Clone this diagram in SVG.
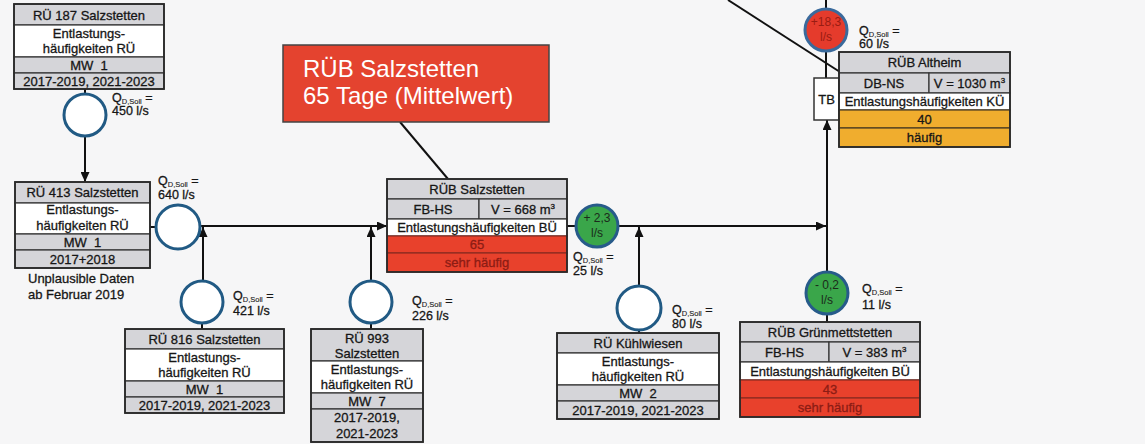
<svg xmlns="http://www.w3.org/2000/svg" width="1145" height="444" viewBox="0 0 1145 444">
<style>
.bg{fill:#f6f6f7}
.g{fill:#d5d5d9;stroke:#333;stroke-width:1.2}
.w{fill:#ffffff;stroke:#333;stroke-width:1.2}
.r{fill:#e8412c;stroke:#8a2a20;stroke-width:1.2}
.o{fill:#f0ad2e;stroke:#4a3a20;stroke-width:1.2}
.frame{fill:none;stroke:#2a2a2a;stroke-width:1.8}
.t{font-family:"Liberation Sans",Arial,sans-serif;font-size:13px;fill:#161616;stroke:#161616;stroke-width:0.3;text-anchor:middle}
.tr{fill:#8c1c14;stroke:#8c1c14}
.l{text-anchor:start}
.q{font-family:"Liberation Sans",Arial,sans-serif;font-size:12.5px;fill:#161616;stroke:#161616;stroke-width:0.3}
.sub{font-size:7.5px;stroke-width:0.1}
.ring{fill:#ffffff;stroke:#215a84;stroke-width:3}
.gc{fill:#3aa64a;stroke:#275b8a;stroke-width:3}
.rc{fill:#e53b2c;stroke:#3a6a9c;stroke-width:3}
.ct{font-family:"Liberation Sans",Arial,sans-serif;font-size:12px;text-anchor:middle;fill:#1b2a1b}
.ctr{fill:#9a1c12}
.ln{stroke:#111;stroke-width:2;fill:none}
.arr{stroke:#111;stroke-width:2;fill:none;marker-end:url(#ah)}
.call{fill:#e4432f;stroke:#444;stroke-width:1.5}
.callt{font-family:"Liberation Sans",Arial,sans-serif;font-size:24px;fill:#ffffff}
</style>
<defs>
<marker id="ah" markerUnits="userSpaceOnUse" markerWidth="10" markerHeight="9" refX="10" refY="4.5" orient="auto">
<path d="M0,0 L10,4.5 L0,9 z" fill="#111"/>
</marker>
</defs>
<rect class="bg" x="0" y="0" width="1145" height="444"/>

<g id="connectors">
<line class="ln" x1="85" y1="89" x2="85" y2="94"/>
<line class="arr" x1="85" y1="136" x2="85" y2="182"/>
<line class="ln" x1="150" y1="227" x2="156" y2="227"/>
<line class="arr" x1="200" y1="226" x2="387" y2="226"/>
<line class="arr" x1="203" y1="281" x2="203" y2="227"/>
<line class="ln" x1="202" y1="323" x2="202" y2="329"/>
<line class="arr" x1="371" y1="281" x2="371" y2="227"/>
<line class="ln" x1="371" y1="323" x2="371" y2="329"/>
<line class="ln" x1="567" y1="226" x2="576" y2="226"/>
<line class="arr" x1="618" y1="226" x2="826" y2="226"/>
<line class="arr" x1="639" y1="286" x2="639" y2="227"/>
<line class="ln" x1="639" y1="330" x2="639" y2="333"/>
<line class="arr" x1="827" y1="272" x2="827" y2="120"/>
<line class="ln" x1="827" y1="314" x2="827" y2="322"/>
<line class="ln" x1="826" y1="0" x2="826" y2="9"/>
<line class="ln" x1="826" y1="51" x2="826" y2="78"/>
<line class="ln" x1="728" y1="0" x2="840" y2="72"/>
<line class="ln" x1="400" y1="122" x2="448" y2="179"/>
</g>

<g id="ru187">
<rect class="g" x="14" y="4" width="150" height="21"/>
<rect class="w" x="14" y="25" width="150" height="32"/>
<rect class="g" x="14" y="57" width="150" height="16"/>
<rect class="g" x="14" y="73" width="150" height="16"/>
<rect class="frame" x="14" y="4" width="150" height="85"/>
<text class="t" x="89" y="19.5">RÜ 187 Salzstetten</text>
<text class="t" x="89" y="37.5">Entlastungs-</text>
<text class="t" x="89" y="52.5">häufigkeiten RÜ</text>
<text class="t" x="89" y="69.5" xml:space="preserve">MW  1</text>
<text class="t" x="89" y="85.5">2017-2019, 2021-2023</text>
</g>

<g id="c450">
<circle class="ring" cx="85" cy="115" r="21"/>
<text class="q" x="112" y="101.5">Q<tspan class="sub" dy="2">D,Soll</tspan><tspan dy="-2"> =</tspan></text>
<text class="q" x="112" y="115">450 l/s</text>
</g>

<g id="ru413">
<rect class="g" x="15" y="182" width="135" height="21"/>
<rect class="w" x="15" y="203" width="135" height="31"/>
<rect class="g" x="15" y="234" width="135" height="16"/>
<rect class="g" x="15" y="250" width="135" height="18"/>
<rect class="frame" x="15" y="182" width="135" height="86"/>
<text class="t" x="82.5" y="197">RÜ 413 Salzstetten</text>
<text class="t" x="82.5" y="213.5">Entlastungs-</text>
<text class="t" x="82.5" y="229.5">häufigkeiten RÜ</text>
<text class="t" x="82.5" y="246.5" xml:space="preserve">MW  1</text>
<text class="t" x="82.5" y="263.5">2017+2018</text>
<text class="t l" x="28" y="283">Unplausible Daten</text>
<text class="t l" x="28" y="299">ab Februar 2019</text>
</g>

<g id="c640">
<circle class="ring" cx="178" cy="227" r="22"/>
<text class="q" x="158" y="185">Q<tspan class="sub" dy="2">D,Soll</tspan><tspan dy="-2"> =</tspan></text>
<text class="q" x="158" y="198.5">640 l/s</text>
</g>

<g id="c421">
<circle class="ring" cx="202" cy="302" r="21"/>
<text class="q" x="233" y="300">Q<tspan class="sub" dy="2">D,Soll</tspan><tspan dy="-2"> =</tspan></text>
<text class="q" x="233" y="315">421 l/s</text>
</g>

<g id="ru816">
<rect class="g" x="125" y="329" width="159" height="20"/>
<rect class="w" x="125" y="349" width="159" height="32"/>
<rect class="g" x="125" y="381" width="159" height="16"/>
<rect class="g" x="125" y="397" width="159" height="16"/>
<rect class="frame" x="125" y="329" width="159" height="84"/>
<text class="t" x="204.5" y="343.5">RÜ 816 Salzstetten</text>
<text class="t" x="204.5" y="361.5">Entlastungs-</text>
<text class="t" x="204.5" y="376.5">häufigkeiten RÜ</text>
<text class="t" x="204.5" y="393.5" xml:space="preserve">MW  1</text>
<text class="t" x="204.5" y="409.5">2017-2019, 2021-2023</text>
</g>

<g id="c226">
<circle class="ring" cx="371" cy="302" r="21"/>
<text class="q" x="412" y="305">Q<tspan class="sub" dy="2">D,Soll</tspan><tspan dy="-2"> =</tspan></text>
<text class="q" x="412" y="320">226 l/s</text>
</g>

<g id="ru993">
<rect class="g" x="311" y="329" width="112" height="32"/>
<rect class="w" x="311" y="361" width="112" height="32"/>
<rect class="g" x="311" y="393" width="112" height="16"/>
<rect class="g" x="311" y="409" width="112" height="33"/>
<rect class="frame" x="311" y="329" width="112" height="113"/>
<text class="t" x="367" y="342.5">RÜ 993</text>
<text class="t" x="367" y="357.5">Salzstetten</text>
<text class="t" x="367" y="373.5">Entlastungs-</text>
<text class="t" x="367" y="388.5">häufigkeiten RÜ</text>
<text class="t" x="367" y="405.5" xml:space="preserve">MW  7</text>
<text class="t" x="367" y="421.5">2017-2019,</text>
<text class="t" x="367" y="437.5">2021-2023</text>
</g>

<g id="callout">
<rect class="call" x="283" y="45" width="266" height="77"/>
<text class="callt" x="303" y="77">RÜB Salzstetten</text>
<text class="callt" x="303" y="104">65 Tage (Mittelwert)</text>
</g>

<g id="rub-salzstetten">
<rect class="g" x="387" y="179" width="180" height="20"/>
<rect class="g" x="387" y="199" width="92" height="20"/>
<rect class="g" x="479" y="199" width="88" height="20"/>
<rect class="w" x="387" y="219" width="180" height="17"/>
<rect class="r" x="387" y="236" width="180" height="17"/>
<rect class="r" x="387" y="253" width="180" height="19"/>
<rect class="frame" x="387" y="179" width="180" height="93"/>
<text class="t" x="477" y="193.5">RÜB Salzstetten</text>
<text class="t" x="433" y="213.5">FB-HS</text>
<text class="t" x="523" y="213.5">V = 668 m<tspan font-size="8" dy="-5">3</tspan></text>
<text class="t" x="477" y="232">Entlastungshäufigkeiten BÜ</text>
<text class="t tr" x="477" y="249">65</text>
<text class="t tr" x="477" y="267">sehr häufig</text>
</g>

<g id="c25">
<circle class="gc" cx="597" cy="226" r="21"/>
<text class="ct" x="597" y="222">+ 2,3</text>
<text class="ct" x="597" y="237">l/s</text>
<text class="q" x="573" y="261">Q<tspan class="sub" dy="2">D,Soll</tspan><tspan dy="-2"> =</tspan></text>
<text class="q" x="573" y="274.5">25 l/s</text>
</g>

<g id="c80">
<circle class="ring" cx="639" cy="308" r="22"/>
<text class="q" x="672" y="314">Q<tspan class="sub" dy="2">D,Soll</tspan><tspan dy="-2"> =</tspan></text>
<text class="q" x="672" y="327.5">80 l/s</text>
</g>

<g id="ru-kuehlwiesen">
<rect class="g" x="557" y="333" width="162" height="20"/>
<rect class="w" x="557" y="353" width="162" height="32"/>
<rect class="g" x="557" y="385" width="162" height="16"/>
<rect class="g" x="557" y="401" width="162" height="18"/>
<rect class="frame" x="557" y="333" width="162" height="86"/>
<text class="t" x="638" y="347.5">RÜ Kühlwiesen</text>
<text class="t" x="638" y="365.5">Entlastungs-</text>
<text class="t" x="638" y="380.5">häufigkeiten RÜ</text>
<text class="t" x="638" y="397.5" xml:space="preserve">MW  2</text>
<text class="t" x="638" y="414.5">2017-2019, 2021-2023</text>
</g>

<g id="c11">
<circle class="gc" cx="827" cy="293" r="21"/>
<text class="ct" x="827" y="289">- 0,2</text>
<text class="ct" x="827" y="304">l/s</text>
<text class="q" x="862" y="293">Q<tspan class="sub" dy="2">D,Soll</tspan><tspan dy="-2"> =</tspan></text>
<text class="q" x="862" y="309">11 l/s</text>
</g>

<g id="rub-gruenmettstetten">
<rect class="g" x="740" y="322" width="180" height="20"/>
<rect class="g" x="740" y="342" width="89" height="20"/>
<rect class="g" x="829" y="342" width="91" height="20"/>
<rect class="w" x="740" y="362" width="180" height="18"/>
<rect class="r" x="740" y="380" width="180" height="18"/>
<rect class="r" x="740" y="398" width="180" height="19"/>
<rect class="frame" x="740" y="322" width="180" height="95"/>
<text class="t" x="830" y="336.5">RÜB Grünmettstetten</text>
<text class="t" x="784.5" y="356.5">FB-HS</text>
<text class="t" x="874.5" y="356.5">V = 383 m<tspan font-size="8" dy="-5">3</tspan></text>
<text class="t" x="830" y="375.5">Entlastungshäufigkeiten BÜ</text>
<text class="t tr" x="830" y="393.5">43</text>
<text class="t tr" x="830" y="412">sehr häufig</text>
</g>

<g id="c60">
<circle class="rc" cx="826" cy="30" r="21"/>
<text class="ct ctr" x="826" y="26">+18,3</text>
<text class="ct ctr" x="826" y="41">l/s</text>
<text class="q" x="859" y="35">Q<tspan class="sub" dy="2">D,Soll</tspan><tspan dy="-2"> =</tspan></text>
<text class="q" x="859" y="48">60 l/s</text>
</g>

<g id="tb">
<rect class="w" x="814" y="78" width="25" height="42" style="stroke-width:1.5"/>
<text class="t" x="826.5" y="104" font-size="11">TB</text>
</g>

<g id="rub-altheim">
<rect class="g" x="839" y="52" width="171" height="21"/>
<rect class="g" x="839" y="73" width="90" height="20"/>
<rect class="g" x="929" y="73" width="81" height="20"/>
<rect class="w" x="839" y="93" width="171" height="17"/>
<rect class="o" x="839" y="110" width="171" height="18"/>
<rect class="o" x="839" y="128" width="171" height="19"/>
<rect class="frame" x="839" y="52" width="171" height="95"/>
<text class="t" x="924.5" y="67">RÜB Altheim</text>
<text class="t" x="884" y="87.5">DB-NS</text>
<text class="t" x="969.5" y="87.5">V = 1030 m<tspan font-size="8" dy="-5">3</tspan></text>
<text class="t" x="924.5" y="106">Entlastungshäufigkeiten KÜ</text>
<text class="t" x="924.5" y="123.5">40</text>
<text class="t" x="924.5" y="142">häufig</text>
</g>
</svg>
